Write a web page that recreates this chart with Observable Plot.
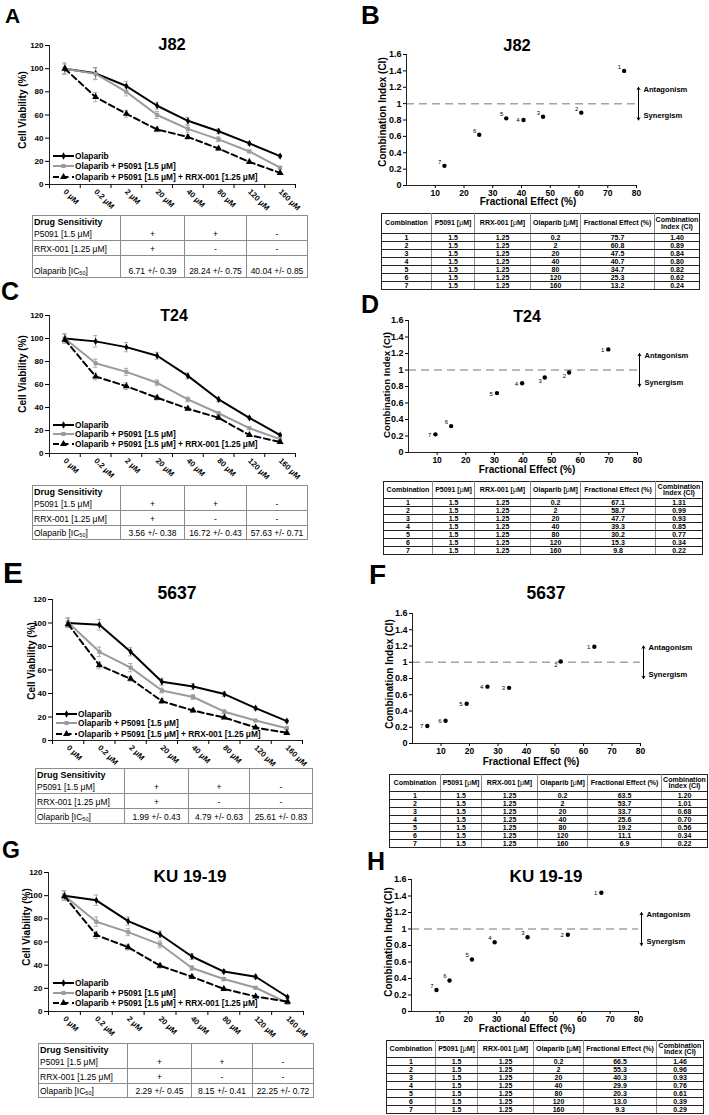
<!DOCTYPE html>
<html>
<head>
<meta charset="utf-8">
<script src="https://cdn.jsdelivr.net/npm/d3@7"></script>
<script src="https://cdn.jsdelivr.net/npm/@observablehq/plot@0.6"></script>
<style>
  body { margin: 0; background: #fff; }
  #fig { position: relative; width: 709px; height: 1115px; overflow: hidden; font-family: "Liberation Sans", Arial, sans-serif; color: #000; background: #fff; -webkit-font-smoothing: antialiased; }
  .abs { position: absolute; }
  .letter { font-weight: bold; line-height: 1; }
  .title { font-weight: bold; line-height: 1; white-space: nowrap; transform: translateX(-50%); }
  .ytitle { font-weight: bold; line-height: 1; white-space: nowrap; transform: translate(-50%, -50%) rotate(-90deg); }
  .xtitle { font-weight: bold; line-height: 1; white-space: nowrap; transform: translateX(-50%); }
  .leg { font-weight: bold; font-size: 8.3px; line-height: 8px; white-space: nowrap; display: flex; align-items: center; }
  .leg svg { display: block; margin-right: 1px; }
  table.ds { position: absolute; border-collapse: collapse; table-layout: fixed; font-size: 8.5px; color: #000; }
  table.ds td { border: 1px solid #8c8c8c; padding: 0 0 1px 0; vertical-align: bottom; text-align: center; line-height: 9px; white-space: nowrap; overflow: hidden; color: #000; }
  table.ds td.lab { text-align: left; padding-left: 1px; }
  table.ds tr.r0 td { border-bottom-style: none; font-weight: bold; font-size: 9px; }
  table.ds tr.r1 td { border-top-style: none; }
  table.ds sub { font-size: 5.5px; vertical-align: -1px; line-height: 0; }
  table.ci { position: absolute; border-collapse: collapse; table-layout: fixed; font-size: 7px; font-weight: bold; color: #000; }
  table.ci td { padding: 0; text-align: center; line-height: 7px; color: #000; border-top: 1px solid #222; border-bottom: 1px solid #222; border-left: 1px solid #8a8a8a; border-right: 1px solid #8a8a8a; white-space: nowrap; overflow: hidden; vertical-align: middle; }
  table.ci td:first-child { border-left-color: #222; }
  table.ci td:last-child { border-right-color: #222; }
  table.ci tr.h td { line-height: 6.5px; white-space: normal; }
  table.ci .u { font-weight: normal; }
</style>
</head>
<body>
<div id="fig"></div>
<script>
// ---------------- data ----------------
const doses = ["0 μM", "0.2 μM", "2 μM", "20 μM", "40 μM", "80 μM", "120 μM", "160 μM"];
const viabilityTicks = [0, 20, 40, 60, 80, 100, 120];
const seriesLabels = ["Olaparib", "Olaparib + P5091 [1.5 μM]", "Olaparib + P5091 [1.5 μM] + RRX-001 [1.25 μM]"];

const j82Olaparib = [100, 96, 85, 68, 55, 46, 35.5, 24.5];
const j82P5091 = [100, 95.5, 80, 60, 48, 39, 28.5, 14.5];
const j82Triple = [100, 75.5, 61, 47.5, 41, 31, 19.5, 10];
const j82OlaparibErr = [5, 5, 4, 3, 3, 2, 1.5, 1];
const j82P5091Err = [4, 5, 3.5, 3, 3, 2, 1, 1];
const j82TripleErr = [1.5, 4, 3, 2, 2, 1.5, 1, 1];

const t24Olaparib = [100, 97.5, 92.5, 85, 67.5, 47, 31, 16];
const t24P5091 = [100, 78.5, 71, 61.5, 47, 35, 22, 12.5];
const t24Triple = [99, 67, 58.5, 48.5, 39, 31, 16, 10];
const t24OlaparibErr = [4, 5, 4, 3, 2.5, 2, 1, 1];
const t24P5091Err = [4, 3.5, 3, 2.5, 2, 1.5, 1, 1];
const t24TripleErr = [2, 3, 3, 2, 1.5, 1.5, 1, 1];

const c5637Olaparib = [100, 98.5, 75.5, 50, 46, 39.5, 27.5, 16.5];
const c5637P5091 = [100.5, 75.5, 62, 42.5, 37, 24.5, 17, 10.5];
const c5637Triple = [99, 64, 52.5, 33.5, 25.5, 19.5, 11, 6.5];
const c5637OlaparibErr = [4, 4.5, 3.5, 3, 2.5, 2, 1.5, 1];
const c5637P5091Err = [4, 4, 3.5, 2, 2, 1.5, 1, 1];
const c5637TripleErr = [2, 3, 2, 2, 1.5, 1, 1, 1];

const kuOlaparib = [100, 96, 78, 66.5, 47.5, 34.5, 30, 12.5];
const kuP5091 = [100, 77.5, 68.5, 58, 37.5, 28, 20.5, 7.5];
const kuTriple = [99.5, 66, 55.5, 39.5, 30, 19.5, 13, 8.5];
const kuOlaparibErr = [4, 4.5, 3.5, 3, 2.5, 1.5, 1.5, 1];
const kuP5091Err = [4, 4, 3, 3, 2, 1.5, 1, 1];
const kuTripleErr = [2, 3, 2.5, 2, 1.5, 1, 1, 1];

const sensitivityRows = ["P5091 [1.5 μM]", "RRX-001 [1.25 μM]"];
const p5091Signs = ["+", "+", "-"];
const rrxSigns = ["+", "-", "-"];
const j82IC50 = ["6.71 +/- 0.39", "28.24 +/- 0.75", "40.04 +/- 0.85"];
const t24IC50 = ["3.56 +/- 0.38", "16.72 +/- 0.43", "57.63 +/- 0.71"];
const c5637IC50 = ["1.99 +/- 0.43", "4.79 +/- 0.63", "25.61 +/- 0.83"];
const kuIC50 = ["2.29 +/- 0.45", "8.15 +/- 0.41", "22.25 +/- 0.72"];

const ciTicks = [0, 0.2, 0.4, 0.6, 0.8, 1, 1.2, 1.4, 1.6];
const feTicks = [10, 20, 30, 40, 50, 60, 70, 80];
const ciThreshold = 1;
const zones = [{label: "Antagonism", tip: 1.2}, {label: "Synergism", tip: 0.8}];

// plotted points
const j82FE = [75.7, 60.8, 47.5, 40.7, 34.7, 25.3, 13.2];
const j82CI = [1.40, 0.89, 0.84, 0.80, 0.82, 0.62, 0.24];
const t24FE = [69.8, 56.1, 47.6, 39.7, 30.9, 14.9, 9.4];
const t24CI = [1.25, 0.97, 0.91, 0.84, 0.72, 0.32, 0.22];
const c5637FE = [63.8, 52.0, 33.9, 26.3, 19.0, 11.6, 5.2];
const c5637CI = [1.19, 1.01, 0.685, 0.70, 0.49, 0.28, 0.215];
const kuFE = [66.9, 55.1, 40.9, 29.3, 21.3, 13.4, 8.8];
const kuCI = [1.44, 0.93, 0.90, 0.84, 0.63, 0.375, 0.26];

// table values
const combinations = ["1", "2", "3", "4", "5", "6", "7"];
const p5091Conc = "1.5";
const rrxConc = "1.25";
const olaparibConc = ["0.2", "2", "20", "40", "80", "120", "160"];
const j82TableFE = ["75.7", "60.8", "47.5", "40.7", "34.7", "25.3", "13.2"];
const j82TableCI = ["1.40", "0.89", "0.84", "0.80", "0.82", "0.62", "0.24"];
const t24TableFE = ["67.1", "58.7", "47.7", "39.3", "30.2", "15.3", "9.8"];
const t24TableCI = ["1.31", "0.99", "0.93", "0.85", "0.77", "0.34", "0.22"];
const c5637TableFE = ["63.5", "53.7", "33.7", "25.6", "19.2", "11.1", "6.9"];
const c5637TableCI = ["1.20", "1.01", "0.68", "0.70", "0.56", "0.34", "0.22"];
const kuTableFE = ["66.5", "55.3", "40.3", "29.9", "20.3", "13.0", "9.3"];
const kuTableCI = ["1.46", "0.96", "0.93", "0.76", "0.61", "0.39", "0.29"];
const ciHeader = ["Combination", "P5091 [<span class=u>μ</span>M]", "RRX-001 [<span class=u>μ</span>M]", "Olaparib [<span class=u>μ</span>M]", "Fractional Effect (%)", "Combination<br>Index (CI)"];

// ---------------- layout ----------------
const FONT = '"Liberation Sans", Arial, sans-serif';
const fig = document.getElementById("fig");
const seriesStyle = [
  {stroke: "#000", fill: "#000", symbol: "diamond", r: 2.2, dash: null},
  {stroke: "#9b9b9b", fill: "#9b9b9b", symbol: "square", r: 2.3, dash: null},
  {stroke: "#000", fill: "#000", symbol: "triangle", r: 2.6, dash: "6,3.5"}
];

function el(tag, cls, css, html) {
  const e = document.createElement(tag);
  if (cls) e.className = cls;
  Object.assign(e.style, css);
  if (html != null) e.innerHTML = html;
  fig.appendChild(e);
  return e;
}
function letter([x, capTop, fs], t) {
  el("div", "abs letter", {left: x + "px", top: (capTop - 0.13 * fs) + "px", fontSize: fs + "px"}, t);
}
function title([cx, base, fs], t) {
  el("div", "abs title", {left: cx + "px", top: (base - 0.8465 * fs) + "px", fontSize: fs + "px"}, t);
}
function ytitle([cx, cy, fs], t) {
  el("div", "abs ytitle", {left: cx + "px", top: cy + "px", fontSize: fs + "px"}, t);
}
function xtitle([cx, base, fs], t) {
  el("div", "abs xtitle", {left: cx + "px", top: (base - 0.8465 * fs) + "px", fontSize: fs + "px"}, t);
}
function place(node, left, top) {
  const w = el("div", "abs", {left: left + "px", top: top + "px"});
  w.appendChild(node);
}

const leftPanels = [
  {letter: "A", title: "J82", ser: [j82Olaparib, j82P5091, j82Triple], err: [j82OlaparibErr, j82P5091Err, j82TripleErr], ic50: j82IC50,
   L: {letter: [5, 8, 21], title: [172, 50, 16.5], ytitle: [23, 110, 10], svgTop: 0, svgH: 215, frame: [49, 295, 45, 184], legend: [53, [156, 166, 177]], table: [32, 215, [88, 64, 62, 61], [12, 13, 15, 22]]}},
  {letter: "C", title: "T24", ser: [t24Olaparib, t24P5091, t24Triple], err: [t24OlaparibErr, t24P5091Err, t24TripleErr], ic50: t24IC50,
   L: {letter: [1, 282, 25], title: [174, 322, 16], ytitle: [23, 374, 10], svgTop: 280, svgH: 205, frame: [49, 295, 315, 453], legend: [53, [425, 434, 444]], table: [32, 485, [88, 64, 62, 61], [12, 13, 15, 14]]}},
  {letter: "E", title: "5637", ser: [c5637Olaparib, c5637P5091, c5637Triple], err: [c5637OlaparibErr, c5637P5091Err, c5637TripleErr], ic50: c5637IC50,
   L: {letter: [3, 562, 30], title: [177, 600, 17.5], ytitle: [32, 661, 10], svgTop: 540, svgH: 228, frame: [52, 302, 599, 740], legend: [56, [714, 723, 734]], table: [35, 768, [89, 64, 61, 63], [12, 13, 15, 15]]}},
  {letter: "G", title: "KU 19-19", ser: [kuOlaparib, kuP5091, kuTriple], err: [kuOlaparibErr, kuP5091Err, kuTripleErr], ic50: kuIC50,
   L: {letter: [2, 842, 23], title: [190, 882, 17], ytitle: [27, 927, 10], svgTop: 810, svgH: 233, frame: [48, 303, 872, 1011], legend: [53, [983, 993, 1003]], table: [38, 1043, [89, 64, 61, 61], [12, 13, 15, 14]]}}
];

const rightPanels = [
  {letter: "B", title: "J82", fe: j82FE, ci: j82CI, tFE: j82TableFE, tCI: j82TableCI, place: ["ul", "ul", "ul", "l", "ul", "ul", "ul"],
   L: {letter: [361, 5, 26], title: [517, 51, 16.5], ytitle: [383, 112, 10], xtitle: [528, 205, 10], svgTop: 0, svgH: 213, frame: [406, 636, 54, 185], arrowDx: 2, table: [381, 213, [50, 43, 56, 50, 74, 45], 20]}},
  {letter: "D", title: "T24", fe: t24FE, ci: t24CI, tFE: t24TableFE, tCI: t24TableCI, place: ["l", "ll", "ll", "l", "l", "ul", "l"],
   L: {letter: [361, 295, 25], title: [527, 323, 16], ytitle: [387, 385, 9.7], xtitle: [527, 473, 10], svgTop: 290, svgH: 190, frame: [408, 637, 320, 452], arrowDx: 2, table: [383, 481, [49, 42, 56, 50, 75, 47], 17]}},
  {letter: "F", title: "5637", fe: c5637FE, ci: c5637CI, tFE: c5637TableFE, tCI: c5637TableCI, place: ["l", "ll", "l", "l", "l", "l", "l"],
   L: {letter: [369, 565, 28], title: [546, 600, 17.5], ytitle: [390, 674, 10], xtitle: [531, 765, 10], svgTop: 560, svgH: 213, frame: [412, 640, 613, 743], arrowDx: 3, table: [389, 774, [51, 41, 56, 50, 74, 46], 17]}},
  {letter: "H", title: "KU 19-19", fe: kuFE, ci: kuCI, tFE: kuTableFE, tCI: kuTableCI, place: ["l", "l", "ul", "ul", "ul", "ul", "ul"],
   L: {letter: [367, 852, 25], title: [546, 882, 17], ytitle: [389, 942, 10], xtitle: [527, 1032, 10], svgTop: 850, svgH: 189, frame: [411, 638, 879, 1011], arrowDx: 3, table: [386, 1040, [49, 42, 56, 50, 73, 47], 17]}}
];

const plotStyle = {fontFamily: FONT, fontSize: "8px", fontWeight: "bold", background: "transparent", overflow: "visible", color: "#000"};

// ---------------- viability charts ----------------
function viability(p) {
  const L = p.L;
  const [x0, x1, yT, yB] = L.frame;
  const W = 354;
  const rows = [];
  p.ser.forEach((vals, s) => vals.forEach((v, i) => rows.push({s, i, v, e: p.err[s][i]})));
  const marks = [];
  const eb = {stroke: "#9a9a9a", strokeWidth: 0.8};
  marks.push(Plot.ruleX(rows, {x: "i", y1: d => d.v - d.e, y2: d => d.v + d.e, ...eb}));
  marks.push(Plot.ruleY(rows, {y: d => d.v + d.e, x1: d => d.i - 0.07, x2: d => d.i + 0.07, ...eb}));
  marks.push(Plot.ruleY(rows, {y: d => d.v - d.e, x1: d => d.i - 0.07, x2: d => d.i + 0.07, ...eb}));
  seriesStyle.forEach((st, s) => {
    const d = rows.filter(r => r.s === s);
    marks.push(Plot.line(d, {x: "i", y: "v", stroke: st.stroke, strokeWidth: 2, strokeDasharray: st.dash || undefined}));
    marks.push(Plot.dot(d, {x: "i", y: "v", symbol: st.symbol, fill: st.fill, r: st.r}));
  });
  marks.push(Plot.ruleX([-0.5], {stroke: "#222"}));
  marks.push(Plot.ruleY([0], {stroke: "#222"}));
  marks.push(Plot.axisY(viabilityTicks, {tickSize: 4, tickPadding: 2, label: null, fontSize: 8, fontWeight: "bold"}));
  marks.push(Plot.axisX(d3.range(doses.length + 1).map(i => i - 0.5), {tickSize: 4, tickFormat: () => "", label: null}));
  marks.push(Plot.axisX(d3.range(doses.length), {tickSize: 0, tickPadding: 6, tickRotate: 45, textAnchor: "start", tickFormat: i => doses[i], label: null, fontSize: 7.8, fontWeight: "bold"}));
  const chart = Plot.plot({
    width: W, height: L.svgH,
    marginLeft: x0, marginRight: W - x1, marginTop: yT - L.svgTop, marginBottom: L.svgTop + L.svgH - yB,
    x: {domain: [-0.5, doses.length - 0.5]},
    y: {domain: [viabilityTicks[0], viabilityTicks[viabilityTicks.length - 1]]},
    style: plotStyle,
    marks
  });
  place(chart, 0, L.svgTop);

  letter(L.letter, p.letter);
  title(L.title, p.title);
  ytitle(L.ytitle, "Cell Viability (%)");

  // legend
  const [lx, lys] = L.legend;
  seriesLabels.forEach((lab, s) => {
    const st = seriesStyle[s];
    const row = el("div", "abs leg", {left: lx + "px", top: (lys[s] - 4) + "px", height: "8px"});
    const sym = {diamond: d3.symbolDiamond, square: d3.symbolSquare, triangle: d3.symbolTriangle}[st.symbol];
    const path = d3.symbol(sym, st.r * st.r * Math.PI)();
    row.innerHTML = `<svg width="21" height="8"><line x1="0" x2="21" y1="4" y2="4" stroke="${st.stroke}" stroke-width="2" ${st.dash ? `stroke-dasharray="${st.dash}"` : ""}/><path d="${path}" transform="translate(10.5,4)" fill="${st.fill}"/></svg><span>${lab}</span>`;
  });

  // drug sensitivity table
  const [tx, ty, cw, rh] = L.table;
  const cells = (arr) => arr.map(v => `<td>${v}</td>`).join("");
  el("table", "ds", {left: tx + "px", top: ty + "px", width: d3.sum(cw) + "px"},
    `<colgroup>${cw.map(w => `<col style="width:${w}px">`).join("")}</colgroup>` +
    `<tr class="r0" style="height:${rh[0]}px"><td class="lab">Drug Sensitivity</td><td></td><td></td><td></td></tr>` +
    `<tr class="r1" style="height:${rh[1]}px"><td class="lab">${sensitivityRows[0]}</td>${cells(p5091Signs)}</tr>` +
    `<tr style="height:${rh[2]}px"><td class="lab">${sensitivityRows[1]}</td>${cells(rrxSigns)}</tr>` +
    `<tr style="height:${rh[3]}px"><td class="lab">Olaparib [IC<sub>50</sub>]</td>${cells(p.ic50)}</tr>`);
}

// ---------------- combination index charts ----------------
const placeOffsets = {ul: [-3, -4], l: [-4, 0.5], ll: [-3, 4]};
function ciChart(p) {
  const L = p.L;
  const [x0, x1, yT, yB] = L.frame;
  const left = 354, W = 355;
  const feMax = feTicks[feTicks.length - 1];
  const pts = p.fe.map((x, k) => ({n: combinations[k], x, y: p.ci[k], pl: p.place[k]}));
  const marks = [
    Plot.ruleY([ciThreshold], {stroke: "#a3a3a3", strokeWidth: 1.5, strokeDasharray: "8,5"}),
    Plot.ruleX([0], {stroke: "#222"}),
    Plot.ruleY([0], {stroke: "#222"}),
    Plot.axisY(ciTicks, {tickSize: 3, tickPadding: 2, tickFormat: d3.format("~g"), label: null, fontSize: 9, fontWeight: "bold"}),
    Plot.axisX(feTicks, {tickSize: 3, tickPadding: 1, label: null, fontSize: 8.5, fontWeight: "bold"}),
    Plot.dot(pts, {x: "x", y: "y", r: 2.2, fill: "#000"})
  ];
  Object.entries(placeOffsets).forEach(([k, [dx, dy]]) => {
    const sub = pts.filter(d => d.pl === k);
    if (sub.length) marks.push(Plot.text(sub, {x: "x", y: "y", text: "n", dx, dy, textAnchor: "end", fontSize: 6, fontWeight: "normal"}));
  });
  marks.push(Plot.arrow(zones, {x1: () => feMax, x2: () => feMax, y1: () => ciThreshold, y2: "tip", dx: L.arrowDx, stroke: "#000", strokeWidth: 1, headLength: 4}));
  marks.push(Plot.text([zones[0]], {x: () => feMax, y: "tip", text: "label", dx: L.arrowDx + 5, dy: 2, textAnchor: "start", fontSize: 7.6, fontWeight: "bold"}));
  marks.push(Plot.text([zones[1]], {x: () => feMax, y: "tip", text: "label", dx: L.arrowDx + 5, dy: -4, textAnchor: "start", fontSize: 7.6, fontWeight: "bold"}));
  const chart = Plot.plot({
    width: W, height: L.svgH,
    marginLeft: x0 - left, marginRight: left + W - x1, marginTop: yT - L.svgTop, marginBottom: L.svgTop + L.svgH - yB,
    x: {domain: [0, feMax]},
    y: {domain: [ciTicks[0], ciTicks[ciTicks.length - 1]]},
    style: plotStyle,
    marks
  });
  place(chart, left, L.svgTop);

  letter(L.letter, p.letter);
  title(L.title, p.title);
  ytitle(L.ytitle, "Combination Index (CI)");
  xtitle(L.xtitle, "Fractional Effect (%)");

  const [tx, ty, cw, hh] = L.table;
  let html = `<colgroup>${cw.map(w => `<col style="width:${w}px">`).join("")}</colgroup>`;
  html += `<tr class="h" style="height:${hh}px">${ciHeader.map(h => `<td>${h}</td>`).join("")}</tr>`;
  combinations.forEach((c, k) => {
    html += `<tr style="height:8px"><td>${c}</td><td>${p5091Conc}</td><td>${rrxConc}</td><td>${olaparibConc[k]}</td><td>${p.tFE[k]}</td><td>${p.tCI[k]}</td></tr>`;
  });
  el("table", "ci", {left: tx + "px", top: ty + "px", width: d3.sum(cw) + "px"}, html);
}

leftPanels.forEach(viability);
rightPanels.forEach(ciChart);
</script>
</body>
</html>
